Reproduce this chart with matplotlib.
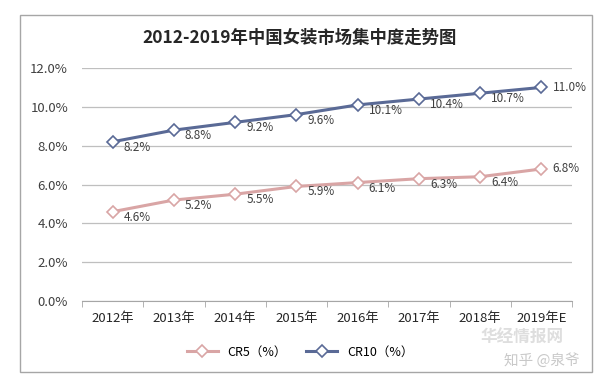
import matplotlib.pyplot as plt
from matplotlib.patches import Rectangle
from matplotlib.ticker import FuncFormatter

plt.rcParams['font.family'] = ['Noto Sans CJK SC', 'DejaVu Sans']

years = ['2012年', '2013年', '2014年', '2015年', '2016年', '2017年', '2018年', '2019年E']
cr5 = [4.6, 5.2, 5.5, 5.9, 6.1, 6.3, 6.4, 6.8]
cr10 = [8.2, 8.8, 9.2, 9.6, 10.1, 10.4, 10.7, 11.0]

c5 = '#D9A5A5'
c10 = '#5A6A96'

fig = plt.figure(figsize=(6, 3.86), dpi=100, facecolor='white')
fig.patches.append(Rectangle((20 / 600, 1 - 372 / 386), 572 / 600, 357 / 386,
                             transform=fig.transFigure, fill=False,
                             edgecolor='#A6A6A6', linewidth=1.0))
ax = fig.add_axes([82 / 600, 1 - 301 / 386, 490 / 600, 233 / 386])

x = range(len(years))
ax.plot(x, cr5, color=c5, lw=2.2, marker='D', ms=6, mfc='white', mec=c5,
        mew=1.2, label='CR5（%）', zorder=3)
ax.plot(x, cr10, color=c10, lw=2.2, marker='D', ms=6, mfc='white', mec=c10,
        mew=1.2, label='CR10（%）', zorder=3)

# data labels: right of the point, a bit lower; the last one level with it
for i, (a, b) in enumerate(zip(cr5, cr10)):
    dy = 0 if i == len(years) - 1 else -4
    for v in (a, b):
        ax.annotate('%.1f%%' % v, (i, v), xytext=(8, dy), textcoords='offset points',
                    ha='left', va='center', fontsize=8.5, color='#404040')

ax.set_xlim(-0.5, len(years) - 0.5)
ax.set_ylim(0, 12)
ax.set_yticks([0, 2, 4, 6, 8, 10, 12])
ax.yaxis.set_major_formatter(FuncFormatter(lambda v, p: '%.1f%%' % v))
ax.set_xticks(list(x))
ax.set_xticklabels(years, fontsize=9.5, color='#262626')
ax.set_xticks([i - 0.5 for i in range(len(years) + 1)], minor=True)
ax.tick_params(axis='x', which='major', length=0, pad=8)
ax.tick_params(axis='x', which='minor', length=4, color='#A6A6A6')
ax.tick_params(axis='y', length=0, labelsize=9.5, labelcolor='#404040', pad=10)
ax.grid(axis='y', color='#BFBFBF', lw=0.9)
for s in ['top', 'right', 'left']:
    ax.spines[s].set_visible(False)
ax.spines['bottom'].set_color('#A6A6A6')
ax.set_axisbelow(True)

fig.text(0.5, 1 - 38 / 386, '2012-2019年中国女装市场集中度走势图', ha='center', va='center',
         fontsize=12.5, fontweight='bold', color='#262626')

fig.legend(loc='center', bbox_to_anchor=(0.5, 1 - 352 / 386), ncol=2, frameon=False,
           fontsize=9, handlelength=2.5, columnspacing=1.5)

# watermark
fig.text(522 / 600, 1 - 338 / 386, '华经情报网', ha='center', va='center', fontsize=12,
         fontweight='bold', color='#D0D0D0', alpha=0.7)
fig.text(542 / 600, 1 - 360 / 386, '知乎 @泉爷', ha='center', va='center', fontsize=10.5,
         color='#BBBBBB', alpha=0.8)

fig.savefig('out.png', dpi=100, facecolor='white')
